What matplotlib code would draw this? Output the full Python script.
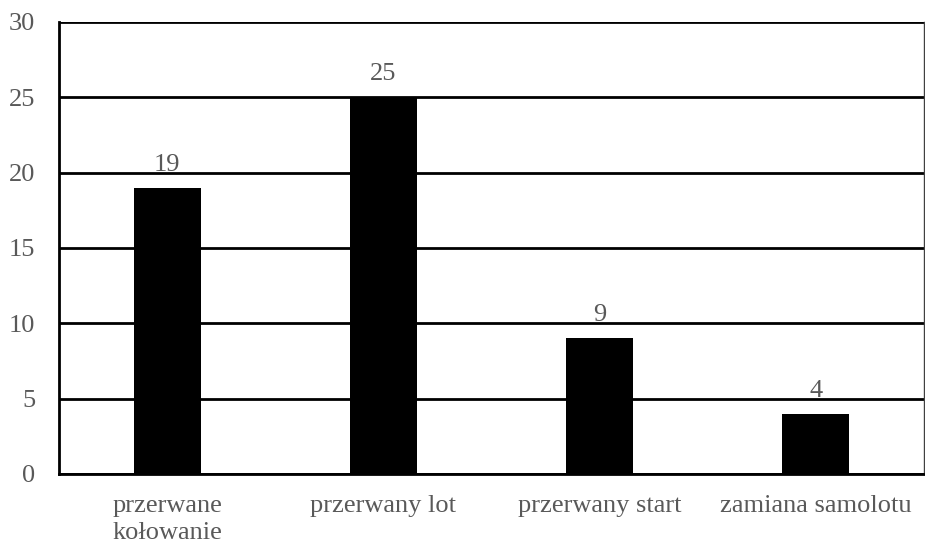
import matplotlib.pyplot as plt

categories = ["przerwane\nkołowanie", "przerwany lot", "przerwany start", "zamiana samolotu"]
values = [19, 25, 9, 4]
yticks = [0, 5, 10, 15, 20, 25, 30]

plt.rcParams['font.family'] = ['Liberation Serif', 'DejaVu Serif']
text_col = '#595959'

fig = plt.figure(figsize=(9.25, 5.46), dpi=100)
ax = fig.add_axes([59 / 925, 1 - 474 / 546, (924 - 59) / 925, (474 - 22) / 546])

x = range(len(categories))
bars = ax.bar(x, values, width=0.31, color='black', zorder=3)
for xi, v in zip(x, values):
    ax.text(xi, v + 0.8, str(v), ha='center', va='bottom', fontsize=19, color=text_col)

ax.set_xlim(-0.5, len(categories) - 0.5)
ax.set_ylim(0, 30)
ax.set_yticks(yticks)
ax.yaxis.grid(True, color='black', linewidth=2, zorder=0)
ax.set_axisbelow(True)
ax.set_xticks(list(x))
ax.set_xticklabels(categories, fontsize=19, color=text_col, linespacing=1.3)
ax.tick_params(axis='y', labelsize=19, labelcolor=text_col, length=0, pad=17)
ax.tick_params(axis='x', length=0, pad=15)

ax.spines['top'].set_visible(False)
ax.spines['left'].set_linewidth(2)
ax.spines['bottom'].set_linewidth(2)
ax.spines['right'].set_linewidth(1)
ax.spines['right'].set_color('#404040')

fig.savefig('out.png', dpi=100)
